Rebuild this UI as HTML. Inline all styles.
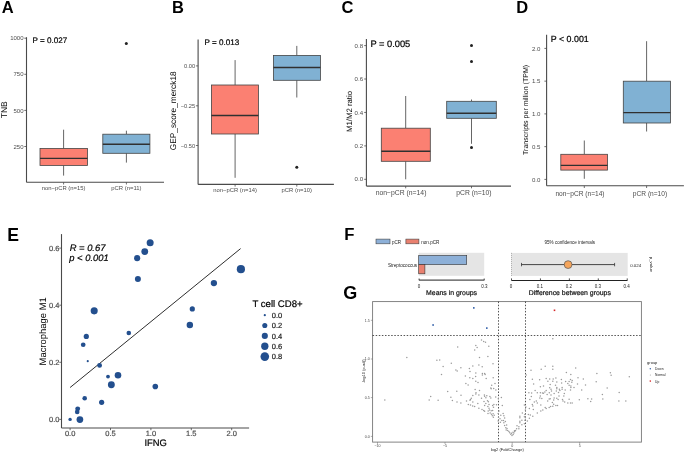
<!DOCTYPE html>
<html><head><meta charset="utf-8"><style>
html,body{margin:0;padding:0;background:#fff;}
svg{display:block;font-family:"Liberation Sans", sans-serif;will-change:transform;}
</style></head><body>
<svg width="685" height="453" viewBox="0 0 685 453">
<rect width="685" height="453" fill="#fff"/>
<text x="1.7" y="12.9" fill="#000" style="font-size:16.5px;font-weight:bold;">A</text>
<text x="172.05" y="12.9" fill="#000" style="font-size:16.5px;font-weight:bold;">B</text>
<text x="341.4" y="12.9" fill="#000" style="font-size:16.5px;font-weight:bold;">C</text>
<text x="516.3" y="12.9" fill="#000" style="font-size:16.5px;font-weight:bold;">D</text>
<line x1="26.5" y1="37.2" x2="26.5" y2="182.3" stroke="#4a4a4a" stroke-width="1.1"/>
<line x1="24.3" y1="38.2" x2="26.5" y2="38.2" stroke="#4a4a4a" stroke-width="0.8"/>
<text x="23.5" y="40.36" text-anchor="end" fill="#4D4D4D" style="font-size:6.0px;">1000</text>
<line x1="24.3" y1="74.3" x2="26.5" y2="74.3" stroke="#4a4a4a" stroke-width="0.8"/>
<text x="23.5" y="76.46" text-anchor="end" fill="#4D4D4D" style="font-size:6.0px;">750</text>
<line x1="24.3" y1="110.4" x2="26.5" y2="110.4" stroke="#4a4a4a" stroke-width="0.8"/>
<text x="23.5" y="112.56" text-anchor="end" fill="#4D4D4D" style="font-size:6.0px;">500</text>
<line x1="24.3" y1="146.5" x2="26.5" y2="146.5" stroke="#4a4a4a" stroke-width="0.8"/>
<text x="23.5" y="148.66" text-anchor="end" fill="#4D4D4D" style="font-size:6.0px;">250</text>
<line x1="26.5" y1="182.3" x2="164" y2="182.3" stroke="#4a4a4a" stroke-width="1.1"/>
<line x1="63.6" y1="182.3" x2="63.6" y2="184.5" stroke="#4a4a4a" stroke-width="0.8"/>
<text x="63.6" y="190.20000000000002" text-anchor="middle" fill="#4D4D4D" style="font-size:5.9px;">non−pCR (n=15)</text>
<line x1="126.4" y1="182.3" x2="126.4" y2="184.5" stroke="#4a4a4a" stroke-width="0.8"/>
<text x="126.4" y="190.20000000000002" text-anchor="middle" fill="#4D4D4D" style="font-size:5.9px;">pCR (n=11)</text>
<line x1="63.6" y1="129.7" x2="63.6" y2="148.5" stroke="#555" stroke-width="0.9"/>
<line x1="63.6" y1="165.4" x2="63.6" y2="175.6" stroke="#555" stroke-width="0.9"/>
<rect x="40.0" y="148.5" width="47.5" height="16.900000000000006" fill="#FB8072" stroke="#444" stroke-width="0.8"/>
<line x1="40.0" y1="158.4" x2="87.5" y2="158.4" stroke="#303030" stroke-width="1.4"/>
<line x1="126.4" y1="130.7" x2="126.4" y2="134.2" stroke="#555" stroke-width="0.9"/>
<line x1="126.4" y1="153.3" x2="126.4" y2="162.6" stroke="#555" stroke-width="0.9"/>
<rect x="102.8" y="134.2" width="47.10000000000001" height="19.100000000000023" fill="#80B1D3" stroke="#444" stroke-width="0.8"/>
<line x1="102.8" y1="144.2" x2="149.9" y2="144.2" stroke="#303030" stroke-width="1.4"/>
<circle cx="126.3" cy="43.5" r="1.5" fill="#222"/>
<text x="32.6" y="42.9" fill="#000" style="font-size:8.1px;text-rendering:geometricPrecision;stroke:#000;stroke-width:0.2px;">P = 0.027</text>
<text x="6.9" y="109.8" text-anchor="middle" fill="#000" style="font-size:8.5px;text-rendering:geometricPrecision;" transform="rotate(-90 6.9 109.8)">TNB</text>
<line x1="198.1" y1="39.4" x2="198.1" y2="184.4" stroke="#4a4a4a" stroke-width="1.1"/>
<line x1="195.9" y1="65.9" x2="198.1" y2="65.9" stroke="#4a4a4a" stroke-width="0.8"/>
<text x="195.1" y="67.95200000000001" text-anchor="end" fill="#4D4D4D" style="font-size:5.7px;">0.00</text>
<line x1="195.9" y1="105.8" x2="198.1" y2="105.8" stroke="#4a4a4a" stroke-width="0.8"/>
<text x="195.1" y="107.852" text-anchor="end" fill="#4D4D4D" style="font-size:5.7px;">−0.25</text>
<line x1="195.9" y1="145.5" x2="198.1" y2="145.5" stroke="#4a4a4a" stroke-width="0.8"/>
<text x="195.1" y="147.552" text-anchor="end" fill="#4D4D4D" style="font-size:5.7px;">−0.50</text>
<line x1="198.1" y1="184.4" x2="333.9" y2="184.4" stroke="#4a4a4a" stroke-width="1.1"/>
<line x1="235.1" y1="184.4" x2="235.1" y2="186.6" stroke="#4a4a4a" stroke-width="0.8"/>
<text x="235.1" y="192.1" text-anchor="middle" fill="#4D4D4D" style="font-size:5.85px;">non−pCR (n=14)</text>
<line x1="296.8" y1="184.4" x2="296.8" y2="186.6" stroke="#4a4a4a" stroke-width="0.8"/>
<text x="296.8" y="192.1" text-anchor="middle" fill="#4D4D4D" style="font-size:5.85px;">pCR (n=10)</text>
<line x1="235.1" y1="60.1" x2="235.1" y2="85.0" stroke="#555" stroke-width="0.9"/>
<line x1="235.1" y1="134.0" x2="235.1" y2="177.8" stroke="#555" stroke-width="0.9"/>
<rect x="211.4" y="85.0" width="46.99999999999997" height="49.0" fill="#FB8072" stroke="#444" stroke-width="0.8"/>
<line x1="211.4" y1="115.5" x2="258.4" y2="115.5" stroke="#303030" stroke-width="1.4"/>
<line x1="296.8" y1="45.9" x2="296.8" y2="55.4" stroke="#555" stroke-width="0.9"/>
<line x1="296.8" y1="80.3" x2="296.8" y2="97.5" stroke="#555" stroke-width="0.9"/>
<rect x="273.4" y="55.4" width="47.0" height="24.9" fill="#80B1D3" stroke="#444" stroke-width="0.8"/>
<line x1="273.4" y1="67.5" x2="320.4" y2="67.5" stroke="#303030" stroke-width="1.4"/>
<circle cx="296.8" cy="167.2" r="1.5" fill="#222"/>
<text x="204.5" y="45.3" fill="#000" style="font-size:8.1px;text-rendering:geometricPrecision;stroke:#000;stroke-width:0.2px;">P = 0.013</text>
<text x="176.3" y="110.8" text-anchor="middle" fill="#000" style="font-size:8.3px;text-rendering:geometricPrecision;" transform="rotate(-90 176.3 110.8)">GEP_score_merck18</text>
<line x1="366.4" y1="39.1" x2="366.4" y2="186.1" stroke="#4a4a4a" stroke-width="1.1"/>
<line x1="364.2" y1="45.6" x2="366.4" y2="45.6" stroke="#4a4a4a" stroke-width="0.8"/>
<text x="363.1" y="47.796" text-anchor="end" fill="#4D4D4D" style="font-size:6.1px;">0.8</text>
<line x1="364.2" y1="79.0" x2="366.4" y2="79.0" stroke="#4a4a4a" stroke-width="0.8"/>
<text x="363.1" y="81.196" text-anchor="end" fill="#4D4D4D" style="font-size:6.1px;">0.6</text>
<line x1="364.2" y1="112.45" x2="366.4" y2="112.45" stroke="#4a4a4a" stroke-width="0.8"/>
<text x="363.1" y="114.646" text-anchor="end" fill="#4D4D4D" style="font-size:6.1px;">0.4</text>
<line x1="364.2" y1="145.9" x2="366.4" y2="145.9" stroke="#4a4a4a" stroke-width="0.8"/>
<text x="363.1" y="148.096" text-anchor="end" fill="#4D4D4D" style="font-size:6.1px;">0.2</text>
<line x1="364.2" y1="179.3" x2="366.4" y2="179.3" stroke="#4a4a4a" stroke-width="0.8"/>
<text x="363.1" y="181.496" text-anchor="end" fill="#4D4D4D" style="font-size:6.1px;">0.0</text>
<line x1="366.4" y1="186.1" x2="511" y2="186.1" stroke="#4a4a4a" stroke-width="1.1"/>
<line x1="405.7" y1="186.1" x2="405.7" y2="188.29999999999998" stroke="#4a4a4a" stroke-width="0.8"/>
<text x="401.1" y="195.1" text-anchor="middle" fill="#4D4D4D" style="font-size:6.8px;">non−pCR (n=14)</text>
<line x1="471.5" y1="186.1" x2="471.5" y2="188.29999999999998" stroke="#4a4a4a" stroke-width="0.8"/>
<text x="473.9" y="195.1" text-anchor="middle" fill="#4D4D4D" style="font-size:6.8px;">pCR (n=10)</text>
<line x1="405.7" y1="96.0" x2="405.7" y2="128.2" stroke="#555" stroke-width="0.9"/>
<line x1="405.7" y1="161.3" x2="405.7" y2="179.3" stroke="#555" stroke-width="0.9"/>
<rect x="381.3" y="128.2" width="49.0" height="33.10000000000002" fill="#FB8072" stroke="#444" stroke-width="0.8"/>
<line x1="381.3" y1="151.3" x2="430.3" y2="151.3" stroke="#303030" stroke-width="1.4"/>
<line x1="471.5" y1="99.5" x2="471.5" y2="101.3" stroke="#555" stroke-width="0.9"/>
<line x1="471.5" y1="118.3" x2="471.5" y2="143.8" stroke="#555" stroke-width="0.9"/>
<rect x="446.7" y="101.3" width="49.60000000000002" height="17.0" fill="#80B1D3" stroke="#444" stroke-width="0.8"/>
<line x1="446.7" y1="113.2" x2="496.3" y2="113.2" stroke="#303030" stroke-width="1.4"/>
<circle cx="471.5" cy="45.4" r="1.5" fill="#222"/>
<circle cx="471.5" cy="61.5" r="1.5" fill="#222"/>
<circle cx="471.5" cy="147.4" r="1.5" fill="#222"/>
<text x="370.4" y="47.3" fill="#000" style="font-size:9.3px;text-rendering:geometricPrecision;stroke:#000;stroke-width:0.2px;">P = 0.005</text>
<text x="352.2" y="111.5" text-anchor="middle" fill="#000" style="font-size:7.8px;text-rendering:geometricPrecision;" transform="rotate(-90 352.2 111.5)">M1/M2 ratio</text>
<line x1="546.6" y1="34.8" x2="546.6" y2="185.8" stroke="#4a4a4a" stroke-width="1.1"/>
<line x1="544.4" y1="48.4" x2="546.6" y2="48.4" stroke="#4a4a4a" stroke-width="0.8"/>
<text x="540.4000000000001" y="50.596" text-anchor="end" fill="#4D4D4D" style="font-size:6.1px;">2.0</text>
<line x1="544.4" y1="81.15" x2="546.6" y2="81.15" stroke="#4a4a4a" stroke-width="0.8"/>
<text x="540.4000000000001" y="83.346" text-anchor="end" fill="#4D4D4D" style="font-size:6.1px;">1.5</text>
<line x1="544.4" y1="113.9" x2="546.6" y2="113.9" stroke="#4a4a4a" stroke-width="0.8"/>
<text x="540.4000000000001" y="116.096" text-anchor="end" fill="#4D4D4D" style="font-size:6.1px;">1.0</text>
<line x1="544.4" y1="146.65" x2="546.6" y2="146.65" stroke="#4a4a4a" stroke-width="0.8"/>
<text x="540.4000000000001" y="148.846" text-anchor="end" fill="#4D4D4D" style="font-size:6.1px;">0.5</text>
<line x1="544.4" y1="179.4" x2="546.6" y2="179.4" stroke="#4a4a4a" stroke-width="0.8"/>
<text x="540.4000000000001" y="181.596" text-anchor="end" fill="#4D4D4D" style="font-size:6.1px;">0.0</text>
<line x1="546.6" y1="185.8" x2="683.9" y2="185.8" stroke="#4a4a4a" stroke-width="1.1"/>
<line x1="584.3" y1="185.8" x2="584.3" y2="188.0" stroke="#4a4a4a" stroke-width="0.8"/>
<text x="580.0" y="195.9" text-anchor="middle" fill="#4D4D4D" style="font-size:6.6px;">non−pCR (n=14)</text>
<line x1="646.6" y1="185.8" x2="646.6" y2="188.0" stroke="#4a4a4a" stroke-width="0.8"/>
<text x="650.0" y="195.9" text-anchor="middle" fill="#4D4D4D" style="font-size:6.6px;">pCR (n=10)</text>
<line x1="584.3" y1="140.5" x2="584.3" y2="154.3" stroke="#555" stroke-width="0.9"/>
<line x1="584.3" y1="170.1" x2="584.3" y2="178.8" stroke="#555" stroke-width="0.9"/>
<rect x="560.8" y="154.3" width="46.80000000000007" height="15.799999999999983" fill="#FB8072" stroke="#444" stroke-width="0.8"/>
<line x1="560.8" y1="165.4" x2="607.6" y2="165.4" stroke="#303030" stroke-width="1.4"/>
<line x1="646.6" y1="41.2" x2="646.6" y2="81.2" stroke="#555" stroke-width="0.9"/>
<line x1="646.6" y1="123.0" x2="646.6" y2="131.5" stroke="#555" stroke-width="0.9"/>
<rect x="623.3" y="81.2" width="47.10000000000002" height="41.8" fill="#80B1D3" stroke="#444" stroke-width="0.8"/>
<line x1="623.3" y1="112.6" x2="670.4" y2="112.6" stroke="#303030" stroke-width="1.4"/>
<text x="550.8" y="41.6" fill="#000" style="font-size:8.85px;text-rendering:geometricPrecision;stroke:#000;stroke-width:0.2px;">P &lt; 0.001</text>
<text x="527.6" y="109.9" text-anchor="middle" fill="#000" style="font-size:7.05px;text-rendering:geometricPrecision;" transform="rotate(-90 527.6 109.9)">Transcripts per million (TPM)</text>
<text x="7.25" y="240.55" fill="#000" style="font-size:17.6px;font-weight:bold;">E</text>
<line x1="61.5" y1="234.1" x2="61.5" y2="428.0" stroke="#4a4a4a" stroke-width="1.1"/>
<line x1="59.3" y1="248.1" x2="61.5" y2="248.1" stroke="#4a4a4a" stroke-width="0.8"/>
<text x="59.5" y="250.79999999999998" text-anchor="end" fill="#4D4D4D" style="font-size:7.5px;text-rendering:geometricPrecision;stroke:#4D4D4D;stroke-width:0.2px;">0.6</text>
<line x1="59.3" y1="305.2" x2="61.5" y2="305.2" stroke="#4a4a4a" stroke-width="0.8"/>
<text x="59.5" y="307.9" text-anchor="end" fill="#4D4D4D" style="font-size:7.5px;text-rendering:geometricPrecision;stroke:#4D4D4D;stroke-width:0.2px;">0.4</text>
<line x1="59.3" y1="362.3" x2="61.5" y2="362.3" stroke="#4a4a4a" stroke-width="0.8"/>
<text x="59.5" y="365.0" text-anchor="end" fill="#4D4D4D" style="font-size:7.5px;text-rendering:geometricPrecision;stroke:#4D4D4D;stroke-width:0.2px;">0.2</text>
<line x1="59.3" y1="419.4" x2="61.5" y2="419.4" stroke="#4a4a4a" stroke-width="0.8"/>
<text x="59.5" y="422.09999999999997" text-anchor="end" fill="#4D4D4D" style="font-size:7.5px;text-rendering:geometricPrecision;stroke:#4D4D4D;stroke-width:0.2px;">0.0</text>
<line x1="61.5" y1="428.0" x2="249.1" y2="428.0" stroke="#4a4a4a" stroke-width="1.1"/>
<line x1="70.1" y1="428.0" x2="70.1" y2="430.2" stroke="#4a4a4a" stroke-width="0.8"/>
<text x="70.1" y="436.0" text-anchor="middle" fill="#4D4D4D" style="font-size:7.5px;text-rendering:geometricPrecision;stroke:#4D4D4D;stroke-width:0.2px;">0.0</text>
<line x1="110.5" y1="428.0" x2="110.5" y2="430.2" stroke="#4a4a4a" stroke-width="0.8"/>
<text x="110.5" y="436.0" text-anchor="middle" fill="#4D4D4D" style="font-size:7.5px;text-rendering:geometricPrecision;stroke:#4D4D4D;stroke-width:0.2px;">0.5</text>
<line x1="150.9" y1="428.0" x2="150.9" y2="430.2" stroke="#4a4a4a" stroke-width="0.8"/>
<text x="150.9" y="436.0" text-anchor="middle" fill="#4D4D4D" style="font-size:7.5px;text-rendering:geometricPrecision;stroke:#4D4D4D;stroke-width:0.2px;">1.0</text>
<line x1="191.3" y1="428.0" x2="191.3" y2="430.2" stroke="#4a4a4a" stroke-width="0.8"/>
<text x="191.3" y="436.0" text-anchor="middle" fill="#4D4D4D" style="font-size:7.5px;text-rendering:geometricPrecision;stroke:#4D4D4D;stroke-width:0.2px;">1.5</text>
<line x1="231.7" y1="428.0" x2="231.7" y2="430.2" stroke="#4a4a4a" stroke-width="0.8"/>
<text x="231.7" y="436.0" text-anchor="middle" fill="#4D4D4D" style="font-size:7.5px;text-rendering:geometricPrecision;stroke:#4D4D4D;stroke-width:0.2px;">2.0</text>
<line x1="70.1" y1="387.5" x2="240.6" y2="248.6" stroke="#2e2e2e" stroke-width="1.0"/>
<circle cx="94.2" cy="310.85" r="3.55" fill="#234F8E"/>
<circle cx="86.3" cy="336.45" r="2.6" fill="#234F8E"/>
<circle cx="83.2" cy="344.75" r="2.35" fill="#234F8E"/>
<circle cx="87.75" cy="361.15" r="1.05" fill="#234F8E"/>
<circle cx="99.6" cy="365.45" r="2.4" fill="#234F8E"/>
<circle cx="108.0" cy="376.55" r="1.9" fill="#234F8E"/>
<circle cx="118.0" cy="375.2" r="3.3" fill="#234F8E"/>
<circle cx="111.35" cy="384.7" r="3.45" fill="#234F8E"/>
<circle cx="84.7" cy="398.3" r="2.3" fill="#234F8E"/>
<circle cx="101.65" cy="402.35" r="2.6" fill="#234F8E"/>
<circle cx="77.7" cy="408.85" r="2.45" fill="#234F8E"/>
<circle cx="77.2" cy="411.9" r="2.3" fill="#234F8E"/>
<circle cx="70.1" cy="419.4" r="1.7" fill="#234F8E"/>
<circle cx="79.9" cy="419.6" r="3.35" fill="#234F8E"/>
<circle cx="128.8" cy="333.05" r="2.3" fill="#234F8E"/>
<circle cx="150.15" cy="242.75" r="3.5" fill="#234F8E"/>
<circle cx="144.75" cy="251.55" r="3.4" fill="#234F8E"/>
<circle cx="137.15" cy="258.15" r="3.05" fill="#234F8E"/>
<circle cx="137.9" cy="278.9" r="3.0" fill="#234F8E"/>
<circle cx="240.9" cy="269.15" r="4.1" fill="#234F8E"/>
<circle cx="213.9" cy="283.1" r="3.15" fill="#234F8E"/>
<circle cx="192.3" cy="308.95" r="2.6" fill="#234F8E"/>
<circle cx="189.85" cy="324.95" r="3.2" fill="#234F8E"/>
<circle cx="155.3" cy="386.55" r="2.8" fill="#234F8E"/>
<text x="69.7" y="250.8" fill="#000" style="font-size:9.4px;text-rendering:geometricPrecision;stroke:#000;stroke-width:0.2px;font-style:italic;">R = 0.67</text>
<text x="69.3" y="260.5" fill="#000" style="font-size:9.4px;text-rendering:geometricPrecision;stroke:#000;stroke-width:0.2px;font-style:italic;">p &lt; 0.001</text>
<text x="46.3" y="331.3" text-anchor="middle" fill="#000" style="font-size:9.45px;text-rendering:geometricPrecision;" transform="rotate(-90 46.3 331.3)">Macrophage M1</text>
<text x="155.7" y="445.6" text-anchor="middle" fill="#000" style="font-size:9.4px;text-rendering:geometricPrecision;stroke:#000;stroke-width:0.2px;">IFNG</text>
<text x="252.4" y="306.8" fill="#000" style="font-size:9.6px;text-rendering:geometricPrecision;stroke:#000;stroke-width:0.2px;">T cell CD8+</text>
<circle cx="264.8" cy="315.2" r="1.1" fill="#234F8E"/>
<text x="271.8" y="317.8" fill="#222" style="font-size:7.5px;text-rendering:geometricPrecision;stroke:#222;stroke-width:0.2px;">0.0</text>
<circle cx="264.8" cy="325.55" r="2.55" fill="#234F8E"/>
<text x="271.8" y="328.15000000000003" fill="#222" style="font-size:7.5px;text-rendering:geometricPrecision;stroke:#222;stroke-width:0.2px;">0.2</text>
<circle cx="264.8" cy="335.9" r="3.05" fill="#234F8E"/>
<text x="271.8" y="338.5" fill="#222" style="font-size:7.5px;text-rendering:geometricPrecision;stroke:#222;stroke-width:0.2px;">0.4</text>
<circle cx="264.8" cy="346.25" r="3.65" fill="#234F8E"/>
<text x="271.8" y="348.85" fill="#222" style="font-size:7.5px;text-rendering:geometricPrecision;stroke:#222;stroke-width:0.2px;">0.6</text>
<circle cx="264.8" cy="356.6" r="4.3" fill="#234F8E"/>
<text x="271.8" y="359.20000000000005" fill="#222" style="font-size:7.5px;text-rendering:geometricPrecision;stroke:#222;stroke-width:0.2px;">0.8</text>
<text x="344.3" y="239.5" fill="#000" style="font-size:16.7px;font-weight:bold;">F</text>
<text x="343.3" y="298.9" fill="#000" style="font-size:18.0px;font-weight:bold;">G</text>
<rect x="376.0" y="239.1" width="14.0" height="4.7" fill="#8DB0D8" stroke="#444" stroke-width="0.6"/>
<text x="391.9" y="243.5" fill="#222" style="font-size:4.6px;">pCR</text>
<rect x="405.9" y="239.1" width="13.0" height="4.7" fill="#E9806F" stroke="#444" stroke-width="0.6"/>
<text x="421.2" y="243.5" fill="#222" style="font-size:4.6px;">non.pCR</text>
<rect x="418.7" y="252.8" width="65.5" height="23.0" fill="#E5E5E5"/>
<rect x="418.7" y="255.4" width="48.0" height="9.2" fill="#8DB0D8" stroke="#333" stroke-width="0.6"/>
<rect x="418.7" y="264.6" width="6.2" height="9.2" fill="#E9806F" stroke="#333" stroke-width="0.6"/>
<text x="417.2" y="266.9" text-anchor="end" fill="#222" style="font-size:4.64px;">Streptococcus</text>
<line x1="418.9" y1="280.1" x2="484.4" y2="280.1" stroke="#222" stroke-width="1.0"/>
<line x1="419.1" y1="278.5" x2="419.1" y2="280.1" stroke="#222" stroke-width="0.8"/>
<line x1="484.2" y1="278.5" x2="484.2" y2="280.1" stroke="#222" stroke-width="0.8"/>
<text x="419.1" y="287.6" text-anchor="middle" fill="#222" style="font-size:4.5px;">0</text>
<text x="484.3" y="287.6" text-anchor="middle" fill="#222" style="font-size:4.5px;">0.3</text>
<text x="451.6" y="294.8" text-anchor="middle" fill="#111" style="font-size:6.9px;text-rendering:geometricPrecision;stroke:#111;stroke-width:0.2px;">Means in groups</text>
<rect x="511.5" y="252.9" width="116.2" height="23.0" fill="#E5E5E5"/>
<line x1="511.5" y1="252.9" x2="511.5" y2="275.9" stroke="#555" stroke-width="0.6" stroke-dasharray="0.8 1.2"/>
<text x="569.8" y="243.5" text-anchor="middle" fill="#222" style="font-size:4.56px;">95% confidence intervals</text>
<line x1="521.5" y1="264.6" x2="614.6" y2="264.6" stroke="#333" stroke-width="0.9"/>
<line x1="521.5" y1="262.9" x2="521.5" y2="266.3" stroke="#333" stroke-width="0.8"/>
<line x1="614.6" y1="262.9" x2="614.6" y2="266.3" stroke="#333" stroke-width="0.8"/>
<circle cx="568.1" cy="264.6" r="3.9" fill="#F5A55C" stroke="#555" stroke-width="0.7"/>
<line x1="511.5" y1="280.5" x2="627.4" y2="280.5" stroke="#222" stroke-width="1.0"/>
<line x1="511.5" y1="278.4" x2="511.5" y2="280.5" stroke="#222" stroke-width="0.8"/>
<text x="511.0" y="287.6" text-anchor="middle" fill="#222" style="font-size:4.5px;">0</text>
<line x1="540.43" y1="278.4" x2="540.43" y2="280.5" stroke="#222" stroke-width="0.8"/>
<text x="539.93" y="287.6" text-anchor="middle" fill="#222" style="font-size:4.5px;">0.1</text>
<line x1="569.36" y1="278.4" x2="569.36" y2="280.5" stroke="#222" stroke-width="0.8"/>
<text x="568.86" y="287.6" text-anchor="middle" fill="#222" style="font-size:4.5px;">0.2</text>
<line x1="598.29" y1="278.4" x2="598.29" y2="280.5" stroke="#222" stroke-width="0.8"/>
<text x="597.79" y="287.6" text-anchor="middle" fill="#222" style="font-size:4.5px;">0.3</text>
<line x1="627.22" y1="278.4" x2="627.22" y2="280.5" stroke="#222" stroke-width="0.8"/>
<text x="626.72" y="287.6" text-anchor="middle" fill="#222" style="font-size:4.5px;">0.4</text>
<text x="569.8" y="294.5" text-anchor="middle" fill="#111" style="font-size:6.9px;text-rendering:geometricPrecision;stroke:#111;stroke-width:0.2px;">Difference between groups</text>
<text x="630.2" y="267.0" fill="#222" style="font-size:4.4px;">0.024</text>
<text x="649.6" y="264.4" text-anchor="middle" fill="#222" style="font-size:4.4px;" transform="rotate(90 649.6 264.4)">p_value</text>
<rect x="372.6" y="301.6" width="268.8" height="140.5" fill="none" stroke="#777" stroke-width="0.9"/>
<line x1="372.6" y1="335.5" x2="641.4" y2="335.5" stroke="#2a2a2a" stroke-width="0.8" stroke-dasharray="1.5 1.6"/>
<line x1="498.5" y1="301.6" x2="498.5" y2="442.1" stroke="#2a2a2a" stroke-width="0.8" stroke-dasharray="1.5 1.6"/>
<line x1="525.5" y1="301.6" x2="525.5" y2="442.1" stroke="#2a2a2a" stroke-width="0.8" stroke-dasharray="1.5 1.6"/>
<line x1="370.8" y1="320.3" x2="372.6" y2="320.3" stroke="#777" stroke-width="0.6"/>
<text x="369.8" y="321.6" text-anchor="end" fill="#444" style="font-size:3.6px;">1.5</text>
<line x1="370.8" y1="359.0" x2="372.6" y2="359.0" stroke="#777" stroke-width="0.6"/>
<text x="369.8" y="360.3" text-anchor="end" fill="#444" style="font-size:3.6px;">1.0</text>
<line x1="370.8" y1="397.6" x2="372.6" y2="397.6" stroke="#777" stroke-width="0.6"/>
<text x="369.8" y="398.90000000000003" text-anchor="end" fill="#444" style="font-size:3.6px;">0.5</text>
<line x1="370.8" y1="436.4" x2="372.6" y2="436.4" stroke="#777" stroke-width="0.6"/>
<text x="369.8" y="437.7" text-anchor="end" fill="#444" style="font-size:3.6px;">0.0</text>
<line x1="377.5" y1="442.1" x2="377.5" y2="443.9" stroke="#777" stroke-width="0.6"/>
<text x="377.5" y="447.2" text-anchor="middle" fill="#444" style="font-size:3.6px;">−10</text>
<line x1="445.0" y1="442.1" x2="445.0" y2="443.9" stroke="#777" stroke-width="0.6"/>
<text x="445.0" y="447.2" text-anchor="middle" fill="#444" style="font-size:3.6px;">−5</text>
<line x1="512.2" y1="442.1" x2="512.2" y2="443.9" stroke="#777" stroke-width="0.6"/>
<text x="512.2" y="447.2" text-anchor="middle" fill="#444" style="font-size:3.6px;">0</text>
<line x1="579.7" y1="442.1" x2="579.7" y2="443.9" stroke="#777" stroke-width="0.6"/>
<text x="579.7" y="447.2" text-anchor="middle" fill="#444" style="font-size:3.6px;">5</text>
<text x="507.3" y="450.5" text-anchor="middle" fill="#222" style="font-size:4.0px;">log2 (FoldChange)</text>
<text x="365.3" y="371.2" text-anchor="middle" fill="#222" style="font-size:4.0px;" transform="rotate(-90 365.3 371.2)">-log10 (p-adj)</text>
<rect x="473.0" y="307.09999999999997" width="1.6" height="1.6" fill="#2F5DA8"/>
<rect x="432.3" y="324.2" width="1.6" height="1.6" fill="#2F5DA8"/>
<rect x="486.0" y="327.3" width="1.6" height="1.6" fill="#2F5DA8"/>
<rect x="553.7" y="309.5" width="1.6" height="1.6" fill="#D62728"/>
<text x="647.1" y="363.6" fill="#222" style="font-size:4.0px;">group</text>
<circle cx="650.3" cy="368.8" r="0.7" fill="#2F5DA8"/>
<text x="655.1" y="370.2" fill="#222" style="font-size:3.3px;">Down</text>
<circle cx="650.3" cy="375.0" r="0.5" fill="#999"/>
<text x="655.1" y="376.4" fill="#222" style="font-size:3.25px;">Normal</text>
<circle cx="650.3" cy="381.1" r="0.8" fill="#D62728"/>
<text x="655.1" y="382.5" fill="#222" style="font-size:3.3px;">Up</text>
<circle cx="406.8" cy="357.6" r="0.75" fill="#9a9a9a"/>
<circle cx="436.9" cy="360.3" r="0.75" fill="#9a9a9a"/>
<circle cx="439.7" cy="360.0" r="0.75" fill="#9a9a9a"/>
<circle cx="441.5" cy="374.4" r="0.75" fill="#9a9a9a"/>
<circle cx="384.8" cy="399.9" r="0.75" fill="#9a9a9a"/>
<circle cx="430.7" cy="396.4" r="0.75" fill="#9a9a9a"/>
<circle cx="429.2" cy="399.9" r="0.75" fill="#9a9a9a"/>
<circle cx="438.1" cy="400.2" r="0.75" fill="#9a9a9a"/>
<circle cx="457.7" cy="346.9" r="0.75" fill="#9a9a9a"/>
<circle cx="475.8" cy="345.4" r="0.75" fill="#9a9a9a"/>
<circle cx="477.1" cy="347.4" r="0.75" fill="#9a9a9a"/>
<circle cx="474.7" cy="350.0" r="0.75" fill="#9a9a9a"/>
<circle cx="479.5" cy="357.5" r="0.75" fill="#9a9a9a"/>
<circle cx="451.3" cy="363.3" r="0.75" fill="#9a9a9a"/>
<circle cx="443.1" cy="366.5" r="0.75" fill="#9a9a9a"/>
<circle cx="460.9" cy="367.8" r="0.75" fill="#9a9a9a"/>
<circle cx="455.9" cy="369.9" r="0.75" fill="#9a9a9a"/>
<circle cx="457.2" cy="371.0" r="0.75" fill="#9a9a9a"/>
<circle cx="469.4" cy="368.4" r="0.75" fill="#9a9a9a"/>
<circle cx="472.8" cy="366.1" r="0.75" fill="#9a9a9a"/>
<circle cx="478.9" cy="365.0" r="0.75" fill="#9a9a9a"/>
<circle cx="470.0" cy="371.5" r="0.75" fill="#9a9a9a"/>
<circle cx="475.8" cy="373.0" r="0.75" fill="#9a9a9a"/>
<circle cx="481.5" cy="340.1" r="0.75" fill="#9a9a9a"/>
<circle cx="483.7" cy="341.6" r="0.75" fill="#9a9a9a"/>
<circle cx="485.5" cy="342.2" r="0.75" fill="#9a9a9a"/>
<circle cx="488.8" cy="346.3" r="0.75" fill="#9a9a9a"/>
<circle cx="487.9" cy="356.4" r="0.75" fill="#9a9a9a"/>
<circle cx="493.0" cy="363.7" r="0.75" fill="#9a9a9a"/>
<circle cx="482.2" cy="366.8" r="0.75" fill="#9a9a9a"/>
<circle cx="482.4" cy="373.4" r="0.75" fill="#9a9a9a"/>
<circle cx="484.6" cy="373.4" r="0.75" fill="#9a9a9a"/>
<circle cx="465.4" cy="376.0" r="0.75" fill="#9a9a9a"/>
<circle cx="469.8" cy="377.7" r="0.75" fill="#9a9a9a"/>
<circle cx="472.8" cy="378.4" r="0.75" fill="#9a9a9a"/>
<circle cx="475.6" cy="376.4" r="0.75" fill="#9a9a9a"/>
<circle cx="475.8" cy="381.3" r="0.75" fill="#9a9a9a"/>
<circle cx="478.0" cy="382.4" r="0.75" fill="#9a9a9a"/>
<circle cx="465.9" cy="383.5" r="0.75" fill="#9a9a9a"/>
<circle cx="468.1" cy="385.1" r="0.75" fill="#9a9a9a"/>
<circle cx="447.7" cy="391.4" r="0.75" fill="#9a9a9a"/>
<circle cx="456.8" cy="391.2" r="0.75" fill="#9a9a9a"/>
<circle cx="461.0" cy="395.2" r="0.75" fill="#9a9a9a"/>
<circle cx="450.9" cy="397.2" r="0.75" fill="#9a9a9a"/>
<circle cx="452.4" cy="400.4" r="0.75" fill="#9a9a9a"/>
<circle cx="457.0" cy="402.0" r="0.75" fill="#9a9a9a"/>
<circle cx="460.9" cy="402.9" r="0.75" fill="#9a9a9a"/>
<circle cx="466.5" cy="401.1" r="0.75" fill="#9a9a9a"/>
<circle cx="470.5" cy="399.4" r="0.75" fill="#9a9a9a"/>
<circle cx="471.3" cy="398.2" r="0.75" fill="#9a9a9a"/>
<circle cx="470.0" cy="400.3" r="0.75" fill="#9a9a9a"/>
<circle cx="472.8" cy="395.6" r="0.75" fill="#9a9a9a"/>
<circle cx="472.8" cy="402.0" r="0.75" fill="#9a9a9a"/>
<circle cx="475.1" cy="389.5" r="0.75" fill="#9a9a9a"/>
<circle cx="476.0" cy="392.8" r="0.75" fill="#9a9a9a"/>
<circle cx="475.8" cy="394.1" r="0.75" fill="#9a9a9a"/>
<circle cx="478.9" cy="395.1" r="0.75" fill="#9a9a9a"/>
<circle cx="479.5" cy="390.5" r="0.75" fill="#9a9a9a"/>
<circle cx="468.3" cy="404.5" r="0.75" fill="#9a9a9a"/>
<circle cx="470.5" cy="405.1" r="0.75" fill="#9a9a9a"/>
<circle cx="472.7" cy="406.0" r="0.75" fill="#9a9a9a"/>
<circle cx="474.6" cy="406.6" r="0.75" fill="#9a9a9a"/>
<circle cx="477.8" cy="403.6" r="0.75" fill="#9a9a9a"/>
<circle cx="478.9" cy="408.2" r="0.75" fill="#9a9a9a"/>
<circle cx="482.4" cy="375.1" r="0.75" fill="#9a9a9a"/>
<circle cx="485.1" cy="374.5" r="0.75" fill="#9a9a9a"/>
<circle cx="486.2" cy="378.6" r="0.75" fill="#9a9a9a"/>
<circle cx="493.2" cy="377.7" r="0.75" fill="#9a9a9a"/>
<circle cx="495.0" cy="383.5" r="0.75" fill="#9a9a9a"/>
<circle cx="491.7" cy="385.2" r="0.75" fill="#9a9a9a"/>
<circle cx="490.8" cy="387.9" r="0.75" fill="#9a9a9a"/>
<circle cx="491.2" cy="388.8" r="0.75" fill="#9a9a9a"/>
<circle cx="493.7" cy="388.6" r="0.75" fill="#9a9a9a"/>
<circle cx="495.9" cy="390.1" r="0.75" fill="#9a9a9a"/>
<circle cx="484.4" cy="395.1" r="0.75" fill="#9a9a9a"/>
<circle cx="484.6" cy="396.3" r="0.75" fill="#9a9a9a"/>
<circle cx="486.8" cy="395.8" r="0.75" fill="#9a9a9a"/>
<circle cx="485.9" cy="397.8" r="0.75" fill="#9a9a9a"/>
<circle cx="481.5" cy="398.3" r="0.75" fill="#9a9a9a"/>
<circle cx="489.9" cy="396.5" r="0.75" fill="#9a9a9a"/>
<circle cx="490.8" cy="398.0" r="0.75" fill="#9a9a9a"/>
<circle cx="495.7" cy="396.9" r="0.75" fill="#9a9a9a"/>
<circle cx="498.3" cy="398.7" r="0.75" fill="#9a9a9a"/>
<circle cx="501.4" cy="397.6" r="0.75" fill="#9a9a9a"/>
<circle cx="487.5" cy="400.7" r="0.75" fill="#9a9a9a"/>
<circle cx="488.4" cy="401.8" r="0.75" fill="#9a9a9a"/>
<circle cx="484.0" cy="401.6" r="0.75" fill="#9a9a9a"/>
<circle cx="485.8" cy="403.5" r="0.75" fill="#9a9a9a"/>
<circle cx="484.6" cy="405.4" r="0.75" fill="#9a9a9a"/>
<circle cx="489.0" cy="404.5" r="0.75" fill="#9a9a9a"/>
<circle cx="487.9" cy="406.4" r="0.75" fill="#9a9a9a"/>
<circle cx="492.6" cy="405.4" r="0.75" fill="#9a9a9a"/>
<circle cx="493.9" cy="404.5" r="0.75" fill="#9a9a9a"/>
<circle cx="496.5" cy="404.8" r="0.75" fill="#9a9a9a"/>
<circle cx="493.5" cy="407.3" r="0.75" fill="#9a9a9a"/>
<circle cx="502.3" cy="405.6" r="0.75" fill="#9a9a9a"/>
<circle cx="482.0" cy="409.5" r="0.75" fill="#9a9a9a"/>
<circle cx="483.7" cy="410.4" r="0.75" fill="#9a9a9a"/>
<circle cx="489.0" cy="408.2" r="0.75" fill="#9a9a9a"/>
<circle cx="489.5" cy="410.0" r="0.75" fill="#9a9a9a"/>
<circle cx="491.2" cy="410.7" r="0.75" fill="#9a9a9a"/>
<circle cx="492.6" cy="410.4" r="0.75" fill="#9a9a9a"/>
<circle cx="488.2" cy="410.9" r="0.75" fill="#9a9a9a"/>
<circle cx="499.0" cy="410.9" r="0.75" fill="#9a9a9a"/>
<circle cx="484.6" cy="411.2" r="0.75" fill="#9a9a9a"/>
<circle cx="488.0" cy="413.4" r="0.75" fill="#9a9a9a"/>
<circle cx="490.2" cy="413.0" r="0.75" fill="#9a9a9a"/>
<circle cx="491.5" cy="414.2" r="0.75" fill="#9a9a9a"/>
<circle cx="493.1" cy="413.8" r="0.75" fill="#9a9a9a"/>
<circle cx="494.2" cy="415.3" r="0.75" fill="#9a9a9a"/>
<circle cx="492.3" cy="415.7" r="0.75" fill="#9a9a9a"/>
<circle cx="493.4" cy="417.3" r="0.75" fill="#9a9a9a"/>
<circle cx="498.2" cy="413.4" r="0.75" fill="#9a9a9a"/>
<circle cx="500.8" cy="415.3" r="0.75" fill="#9a9a9a"/>
<circle cx="503.1" cy="413.4" r="0.75" fill="#9a9a9a"/>
<circle cx="503.9" cy="415.7" r="0.75" fill="#9a9a9a"/>
<circle cx="504.6" cy="418.0" r="0.75" fill="#9a9a9a"/>
<circle cx="498.5" cy="417.3" r="0.75" fill="#9a9a9a"/>
<circle cx="500.0" cy="418.8" r="0.75" fill="#9a9a9a"/>
<circle cx="498.2" cy="421.1" r="0.75" fill="#9a9a9a"/>
<circle cx="500.4" cy="422.3" r="0.75" fill="#9a9a9a"/>
<circle cx="501.9" cy="420.4" r="0.75" fill="#9a9a9a"/>
<circle cx="503.5" cy="420.4" r="0.75" fill="#9a9a9a"/>
<circle cx="505.4" cy="421.5" r="0.75" fill="#9a9a9a"/>
<circle cx="503.9" cy="422.7" r="0.75" fill="#9a9a9a"/>
<circle cx="504.6" cy="425.4" r="0.75" fill="#9a9a9a"/>
<circle cx="506.6" cy="425.0" r="0.75" fill="#9a9a9a"/>
<circle cx="505.8" cy="427.7" r="0.75" fill="#9a9a9a"/>
<circle cx="507.0" cy="428.5" r="0.75" fill="#9a9a9a"/>
<circle cx="506.2" cy="430.0" r="0.75" fill="#9a9a9a"/>
<circle cx="507.7" cy="430.4" r="0.75" fill="#9a9a9a"/>
<circle cx="508.9" cy="431.6" r="0.75" fill="#9a9a9a"/>
<circle cx="509.7" cy="432.7" r="0.75" fill="#9a9a9a"/>
<circle cx="510.8" cy="434.3" r="0.75" fill="#9a9a9a"/>
<circle cx="512.0" cy="435.6" r="0.75" fill="#9a9a9a"/>
<circle cx="513.1" cy="434.6" r="0.75" fill="#9a9a9a"/>
<circle cx="513.9" cy="433.1" r="0.75" fill="#9a9a9a"/>
<circle cx="514.7" cy="431.6" r="0.75" fill="#9a9a9a"/>
<circle cx="515.5" cy="430.4" r="0.75" fill="#9a9a9a"/>
<circle cx="516.6" cy="428.8" r="0.75" fill="#9a9a9a"/>
<circle cx="517.0" cy="425.8" r="0.75" fill="#9a9a9a"/>
<circle cx="529.9" cy="399.5" r="0.75" fill="#9a9a9a"/>
<circle cx="531.3" cy="396.5" r="0.75" fill="#9a9a9a"/>
<circle cx="539.8" cy="398.0" r="0.75" fill="#9a9a9a"/>
<circle cx="541.8" cy="398.5" r="0.75" fill="#9a9a9a"/>
<circle cx="540.3" cy="396.0" r="0.75" fill="#9a9a9a"/>
<circle cx="534.3" cy="402.0" r="0.75" fill="#9a9a9a"/>
<circle cx="536.3" cy="401.0" r="0.75" fill="#9a9a9a"/>
<circle cx="537.3" cy="402.9" r="0.75" fill="#9a9a9a"/>
<circle cx="532.3" cy="404.4" r="0.75" fill="#9a9a9a"/>
<circle cx="532.8" cy="405.9" r="0.75" fill="#9a9a9a"/>
<circle cx="540.8" cy="404.9" r="0.75" fill="#9a9a9a"/>
<circle cx="547.7" cy="401.0" r="0.75" fill="#9a9a9a"/>
<circle cx="549.2" cy="399.0" r="0.75" fill="#9a9a9a"/>
<circle cx="524.4" cy="404.9" r="0.75" fill="#9a9a9a"/>
<circle cx="525.9" cy="406.9" r="0.75" fill="#9a9a9a"/>
<circle cx="529.4" cy="408.4" r="0.75" fill="#9a9a9a"/>
<circle cx="533.3" cy="409.4" r="0.75" fill="#9a9a9a"/>
<circle cx="525.4" cy="409.9" r="0.75" fill="#9a9a9a"/>
<circle cx="545.2" cy="407.4" r="0.75" fill="#9a9a9a"/>
<circle cx="549.2" cy="407.4" r="0.75" fill="#9a9a9a"/>
<circle cx="542.8" cy="409.9" r="0.75" fill="#9a9a9a"/>
<circle cx="540.8" cy="410.9" r="0.75" fill="#9a9a9a"/>
<circle cx="537.3" cy="412.9" r="0.75" fill="#9a9a9a"/>
<circle cx="522.4" cy="412.9" r="0.75" fill="#9a9a9a"/>
<circle cx="524.9" cy="414.4" r="0.75" fill="#9a9a9a"/>
<circle cx="528.4" cy="414.4" r="0.75" fill="#9a9a9a"/>
<circle cx="530.3" cy="414.9" r="0.75" fill="#9a9a9a"/>
<circle cx="532.8" cy="416.3" r="0.75" fill="#9a9a9a"/>
<circle cx="524.4" cy="416.8" r="0.75" fill="#9a9a9a"/>
<circle cx="525.4" cy="417.8" r="0.75" fill="#9a9a9a"/>
<circle cx="529.4" cy="418.3" r="0.75" fill="#9a9a9a"/>
<circle cx="519.9" cy="416.3" r="0.75" fill="#9a9a9a"/>
<circle cx="519.9" cy="417.8" r="0.75" fill="#9a9a9a"/>
<circle cx="521.9" cy="420.3" r="0.75" fill="#9a9a9a"/>
<circle cx="524.9" cy="420.3" r="0.75" fill="#9a9a9a"/>
<circle cx="527.4" cy="421.0" r="0.75" fill="#9a9a9a"/>
<circle cx="519.9" cy="421.3" r="0.75" fill="#9a9a9a"/>
<circle cx="519.9" cy="422.8" r="0.75" fill="#9a9a9a"/>
<circle cx="524.4" cy="423.8" r="0.75" fill="#9a9a9a"/>
<circle cx="521.9" cy="424.8" r="0.75" fill="#9a9a9a"/>
<circle cx="518.9" cy="426.8" r="0.75" fill="#9a9a9a"/>
<circle cx="518.9" cy="428.7" r="0.75" fill="#9a9a9a"/>
<circle cx="514.5" cy="430.7" r="0.75" fill="#9a9a9a"/>
<circle cx="513.0" cy="432.2" r="0.75" fill="#9a9a9a"/>
<circle cx="511.5" cy="433.2" r="0.75" fill="#9a9a9a"/>
<circle cx="552.8" cy="338.7" r="0.75" fill="#9a9a9a"/>
<circle cx="545.2" cy="366.3" r="0.75" fill="#9a9a9a"/>
<circle cx="552.8" cy="366.3" r="0.75" fill="#9a9a9a"/>
<circle cx="541.2" cy="369.3" r="0.75" fill="#9a9a9a"/>
<circle cx="552.8" cy="369.3" r="0.75" fill="#9a9a9a"/>
<circle cx="531.0" cy="370.3" r="0.75" fill="#9a9a9a"/>
<circle cx="575.7" cy="368.1" r="0.75" fill="#9a9a9a"/>
<circle cx="566.4" cy="372.5" r="0.75" fill="#9a9a9a"/>
<circle cx="570.8" cy="374.6" r="0.75" fill="#9a9a9a"/>
<circle cx="596.9" cy="373.4" r="0.75" fill="#9a9a9a"/>
<circle cx="610.4" cy="372.7" r="0.75" fill="#9a9a9a"/>
<circle cx="611.1" cy="375.2" r="0.75" fill="#9a9a9a"/>
<circle cx="629.3" cy="376.7" r="0.75" fill="#9a9a9a"/>
<circle cx="578.0" cy="377.7" r="0.75" fill="#9a9a9a"/>
<circle cx="546.2" cy="378.4" r="0.75" fill="#9a9a9a"/>
<circle cx="549.7" cy="379.1" r="0.75" fill="#9a9a9a"/>
<circle cx="553.2" cy="379.1" r="0.75" fill="#9a9a9a"/>
<circle cx="555.9" cy="378.0" r="0.75" fill="#9a9a9a"/>
<circle cx="561.4" cy="379.5" r="0.75" fill="#9a9a9a"/>
<circle cx="570.5" cy="379.5" r="0.75" fill="#9a9a9a"/>
<circle cx="572.2" cy="380.4" r="0.75" fill="#9a9a9a"/>
<circle cx="547.9" cy="381.3" r="0.75" fill="#9a9a9a"/>
<circle cx="552.8" cy="381.3" r="0.75" fill="#9a9a9a"/>
<circle cx="556.8" cy="381.9" r="0.75" fill="#9a9a9a"/>
<circle cx="561.6" cy="383.0" r="0.75" fill="#9a9a9a"/>
<circle cx="565.6" cy="381.5" r="0.75" fill="#9a9a9a"/>
<circle cx="569.1" cy="381.5" r="0.75" fill="#9a9a9a"/>
<circle cx="567.8" cy="383.5" r="0.75" fill="#9a9a9a"/>
<circle cx="571.8" cy="382.2" r="0.75" fill="#9a9a9a"/>
<circle cx="577.5" cy="383.9" r="0.75" fill="#9a9a9a"/>
<circle cx="550.2" cy="384.4" r="0.75" fill="#9a9a9a"/>
<circle cx="555.5" cy="385.2" r="0.75" fill="#9a9a9a"/>
<circle cx="569.1" cy="385.2" r="0.75" fill="#9a9a9a"/>
<circle cx="570.9" cy="386.1" r="0.75" fill="#9a9a9a"/>
<circle cx="543.5" cy="386.1" r="0.75" fill="#9a9a9a"/>
<circle cx="540.4" cy="386.8" r="0.75" fill="#9a9a9a"/>
<circle cx="549.7" cy="387.7" r="0.75" fill="#9a9a9a"/>
<circle cx="556.8" cy="387.5" r="0.75" fill="#9a9a9a"/>
<circle cx="562.1" cy="387.5" r="0.75" fill="#9a9a9a"/>
<circle cx="570.9" cy="387.5" r="0.75" fill="#9a9a9a"/>
<circle cx="574.0" cy="387.5" r="0.75" fill="#9a9a9a"/>
<circle cx="551.0" cy="389.2" r="0.75" fill="#9a9a9a"/>
<circle cx="556.8" cy="388.8" r="0.75" fill="#9a9a9a"/>
<circle cx="559.4" cy="389.2" r="0.75" fill="#9a9a9a"/>
<circle cx="562.1" cy="389.2" r="0.75" fill="#9a9a9a"/>
<circle cx="565.2" cy="390.1" r="0.75" fill="#9a9a9a"/>
<circle cx="570.5" cy="390.1" r="0.75" fill="#9a9a9a"/>
<circle cx="546.2" cy="390.5" r="0.75" fill="#9a9a9a"/>
<circle cx="551.5" cy="391.0" r="0.75" fill="#9a9a9a"/>
<circle cx="556.3" cy="391.0" r="0.75" fill="#9a9a9a"/>
<circle cx="559.9" cy="390.5" r="0.75" fill="#9a9a9a"/>
<circle cx="544.9" cy="391.9" r="0.75" fill="#9a9a9a"/>
<circle cx="543.5" cy="393.2" r="0.75" fill="#9a9a9a"/>
<circle cx="540.4" cy="392.8" r="0.75" fill="#9a9a9a"/>
<circle cx="549.3" cy="392.8" r="0.75" fill="#9a9a9a"/>
<circle cx="554.1" cy="393.4" r="0.75" fill="#9a9a9a"/>
<circle cx="558.5" cy="392.5" r="0.75" fill="#9a9a9a"/>
<circle cx="564.3" cy="393.4" r="0.75" fill="#9a9a9a"/>
<circle cx="547.1" cy="394.5" r="0.75" fill="#9a9a9a"/>
<circle cx="551.0" cy="395.0" r="0.75" fill="#9a9a9a"/>
<circle cx="559.0" cy="396.0" r="0.75" fill="#9a9a9a"/>
<circle cx="563.8" cy="396.0" r="0.75" fill="#9a9a9a"/>
<circle cx="554.1" cy="398.0" r="0.75" fill="#9a9a9a"/>
<circle cx="556.8" cy="398.3" r="0.75" fill="#9a9a9a"/>
<circle cx="550.2" cy="398.7" r="0.75" fill="#9a9a9a"/>
<circle cx="558.1" cy="399.4" r="0.75" fill="#9a9a9a"/>
<circle cx="562.5" cy="399.5" r="0.75" fill="#9a9a9a"/>
<circle cx="569.1" cy="399.2" r="0.75" fill="#9a9a9a"/>
<circle cx="579.3" cy="399.8" r="0.75" fill="#9a9a9a"/>
<circle cx="553.7" cy="400.1" r="0.75" fill="#9a9a9a"/>
<circle cx="563.0" cy="401.0" r="0.75" fill="#9a9a9a"/>
<circle cx="564.7" cy="402.0" r="0.75" fill="#9a9a9a"/>
<circle cx="552.4" cy="402.5" r="0.75" fill="#9a9a9a"/>
<circle cx="567.8" cy="402.9" r="0.75" fill="#9a9a9a"/>
<circle cx="570.5" cy="402.9" r="0.75" fill="#9a9a9a"/>
<circle cx="572.2" cy="402.9" r="0.75" fill="#9a9a9a"/>
<circle cx="553.7" cy="404.2" r="0.75" fill="#9a9a9a"/>
<circle cx="555.9" cy="405.4" r="0.75" fill="#9a9a9a"/>
<circle cx="550.6" cy="406.6" r="0.75" fill="#9a9a9a"/>
<circle cx="552.8" cy="406.3" r="0.75" fill="#9a9a9a"/>
<circle cx="546.2" cy="408.6" r="0.75" fill="#9a9a9a"/>
<circle cx="583.3" cy="378.9" r="0.75" fill="#9a9a9a"/>
<circle cx="596.2" cy="381.7" r="0.75" fill="#9a9a9a"/>
<circle cx="585.5" cy="384.9" r="0.75" fill="#9a9a9a"/>
<circle cx="607.2" cy="388.1" r="0.75" fill="#9a9a9a"/>
<circle cx="581.7" cy="390.1" r="0.75" fill="#9a9a9a"/>
<circle cx="619.2" cy="392.4" r="0.75" fill="#9a9a9a"/>
<circle cx="602.4" cy="394.5" r="0.75" fill="#9a9a9a"/>
<circle cx="587.9" cy="398.7" r="0.75" fill="#9a9a9a"/>
<circle cx="591.6" cy="398.9" r="0.75" fill="#9a9a9a"/>
<circle cx="590.7" cy="401.4" r="0.75" fill="#9a9a9a"/>
<circle cx="602.8" cy="399.1" r="0.75" fill="#9a9a9a"/>
<circle cx="618.9" cy="401.0" r="0.75" fill="#9a9a9a"/>
<circle cx="625.8" cy="401.0" r="0.75" fill="#9a9a9a"/>
<circle cx="557.5" cy="405.4" r="0.75" fill="#9a9a9a"/>
<circle cx="526.2" cy="375.1" r="0.75" fill="#9a9a9a"/>
<circle cx="532.4" cy="379.3" r="0.75" fill="#9a9a9a"/>
<circle cx="539.6" cy="379.8" r="0.75" fill="#9a9a9a"/>
<circle cx="533.6" cy="383.9" r="0.75" fill="#9a9a9a"/>
<circle cx="535.1" cy="390.4" r="0.75" fill="#9a9a9a"/>
<circle cx="528.9" cy="392.8" r="0.75" fill="#9a9a9a"/>
<circle cx="531.6" cy="393.0" r="0.75" fill="#9a9a9a"/>
<circle cx="537.3" cy="392.8" r="0.75" fill="#9a9a9a"/>
<circle cx="542.5" cy="393.0" r="0.75" fill="#9a9a9a"/>
</svg></body></html>
